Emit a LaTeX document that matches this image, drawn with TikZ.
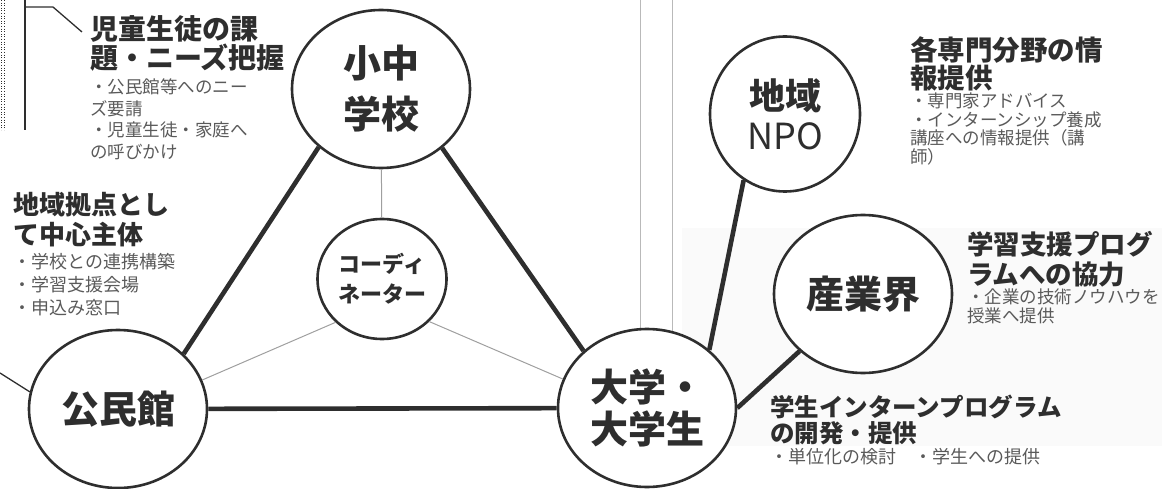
\documentclass[tikz,border=0pt]{standalone}
\usepackage{fontspec}
\setmainfont{Noto Sans CJK JP}
\usetikzlibrary{shapes.geometric}
\definecolor{ink}{HTML}{2E2E2E}
\definecolor{note}{HTML}{5A5A5A}

\begin{document}
\begin{tikzpicture}[
    x=1pt, y=-1pt,
    party/.style={draw=ink, line width=2.6pt, ellipse, fill=white, inner sep=0pt,
        minimum width=178pt, minimum height=158pt, align=center, text=ink,
        font=\bfseries\fontsize{38}{44}\selectfont},
    tie/.style={draw=ink, line width=4.6pt},
    feeler/.style={draw=gray!75, line width=1pt},
    rule/.style={draw=gray!55, line width=0.9pt},
    heading/.style={anchor=north west, inner sep=0pt, align=left, text=ink,
        font=\bfseries\fontsize{28}{29}\selectfont},
    points/.style={anchor=north west, inner sep=0pt, align=left, text=note,
        font=\fontsize{17.5}{21.5}\selectfont}
]
\useasboundingbox (0,0) rectangle (1162,489);

%-------------------------------------------------
% Backdrop
%-------------------------------------------------
\fill[gray!4] (682,228) rectangle (1162,446);
\draw[rule] (640,0) -- (640,330);
\draw[rule] (672,0) -- (672,332);
\draw[ink, dotted, line width=0.6pt] (1.5,0) -- (1.5,130);
\draw[ink, dotted, line width=0.6pt] (4,0) -- (4,130);
\draw[ink, line width=1.3pt] (25,0) -- (25,130);
\draw[ink, line width=1.3pt] (25,7) -- (53,7) -- (82,32);

%-------------------------------------------------
% Partners
%-------------------------------------------------
\node[party, font=\bfseries\fontsize{38}{51}\selectfont] (school) at (381,89) {小中\\学校};
\node[party, minimum width=129pt, minimum height=120pt,
      font=\bfseries\fontsize{22}{30}\selectfont] (coord) at (382,279) {コーディ\\ネーター};
\node[party] (kominkan) at (118,409) {公民館};
\node[party, font=\bfseries\fontsize{38}{42}\selectfont] (univ) at (647,408) {大学・\\大学生};
\node[party, minimum width=150pt, minimum height=155pt,
      font=\bfseries\fontsize{36}{40}\selectfont] (npo) at (785,114) {地域\\{\mdseries NPO}};
\node[party] (industry) at (863,294) {産業界};

\coordinate (offpage) at (0,373);

%-------------------------------------------------
% Links
%-------------------------------------------------
\draw[tie] (school.223) -- (kominkan.40);
\draw[tie] (school.-44) -- (univ.138);
\draw[tie] (kominkan) -- (univ);
\draw[tie] (npo.238) -- (univ.43);
\draw[tie] (industry.222) -- (univ.0);

\draw[feeler] (school) -- (coord);
\draw[feeler] (coord.223) -- (kominkan.19);
\draw[feeler] (coord.-42) -- (univ.161);
\draw[ink, line width=1.3pt] (offpage) -- (kominkan.169);

%-------------------------------------------------
% Roles
%-------------------------------------------------
\node[heading] (needs) at (90,15) {児童生徒の課\\題・ニーズ把握};
\node[points] (needsList) at (90,79) {・公民館等へのニー\\ズ要請\\・児童生徒・家庭へ\\の呼びかけ};

\node[heading, font=\bfseries\fontsize{26}{30}\selectfont] (base) at (13,192) {地域拠点とし\\て中心主体};
\node[points, font=\fontsize{18}{23}\selectfont] (baseList) at (13,253) {・学校との連携構築\\・学習支援会場\\・申込み窓口};

\node[heading, font=\bfseries\fontsize{27.5}{28}\selectfont] (expert) at (910,36) {各専門分野の情\\報提供};
\node[points, font=\fontsize{17.5}{18.5}\selectfont] (expertList) at (910,93) {・専門家アドバイス\\・インターンシップ養成\\講座への情報提供（講\\師）};

\node[heading, font=\bfseries\fontsize{26.5}{30}\selectfont] (support) at (967,231) {学習支援プログ\\ラムへの協力};
\node[points, font=\fontsize{17.5}{19}\selectfont] (supportList) at (967,289) {・企業の技術ノウハウを\\授業へ提供};

\node[heading, font=\bfseries\fontsize{24.5}{26}\selectfont] (intern) at (770,395) {学生インターンプログラム\\の開発・提供};
\node[points, font=\fontsize{18}{19}\selectfont] (internList) at (770,448) {・単位化の検討　・学生への提供};

\end{tikzpicture}
\end{document}
